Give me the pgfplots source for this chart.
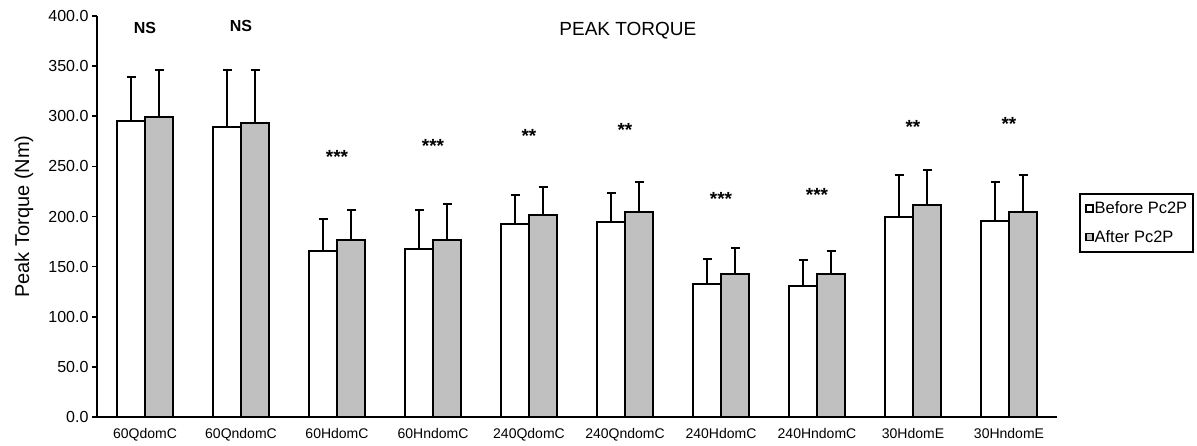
\documentclass[border=0pt]{standalone}
\usepackage{fontspec}
\setmainfont{Liberation Sans}
\usepackage{pgfplots}
\pgfplotsset{compat=1.18}
\usepackage{pgfplotstable}
\definecolor{barGray}{RGB}{192,192,192}

\pgfplotstableread{
x before berr after aerr
0 295   44.5 299 47
1 289   57   293 53
2 166   31.5 177 29
3 168   38.5 177 35.5
4 192.5 28.5 201.5 28
5 195   28.5 204 30.5
6 132.5 25   143 25.5
7 130.5 26.5 143 23
8 199.5 42   211 35
9 195.5 39   204 37.5
}\data

\begin{document}
\begin{tikzpicture}
\useasboundingbox (0,0) rectangle (1197pt,445pt);
\begin{axis}[
  at={(97pt,28pt)}, anchor=south west,
  scale only axis, width=960pt, height=401pt,
  xmin=-0.5, xmax=9.5, ymin=0, ymax=400,
  axis x line*=bottom, axis y line*=left,
  axis line style={line width=2pt, -},
  ybar=0pt, bar width=28pt,
  xtick={0,...,9},
  xticklabels={60QdomC,60QndomC,60HdomC,60HndomC,240QdomC,240QndomC,240HdomC,240HndomC,30HdomE,30HndomE},
  xticklabel style={font=\fontsize{14}{16}\selectfont, yshift=-3pt},
  x tick style={draw=none},
  ytick={0,50,...,400},
  y tick style={line width=1.6pt, black},
  tick align=outside, major tick length=5pt,
  yticklabel style={font=\fontsize{16}{18}\selectfont, /pgf/number format/.cd, fixed, fixed zerofill, precision=1, assume math mode=true},
  ylabel={Peak Torque (Nm)},
  ylabel style={font=\fontsize{20}{22}\selectfont, at={(axis description cs:-0.076,0.5)}, anchor=center},
  legend style={at={(1.0229,0.5586)}, anchor=north west, draw=black, line width=2pt,
    font=\fontsize{16.5}{18}\selectfont, inner xsep=5pt, inner ysep=6pt, row sep=11pt,
    nodes={inner xsep=1pt}},
  legend cell align=left,
  legend image code/.code={\draw[#1, line width=1.6pt] (0pt,-3.5pt) rectangle (7pt,3.5pt);},
  error bars/y dir=plus, error bars/y explicit,
  error bars/error bar style={line width=2pt, black},
  error bars/error mark options={rotate=90, mark size=4.5pt, line width=2pt, black},
]
\addplot[fill=white, draw=black, line width=2pt] table[x=x, y=before, y error=berr]{\data};
\addplot[fill=barGray, draw=black, line width=2pt] table[x=x, y=after, y error=aerr]{\data};
\legend{Before Pc2P, After Pc2P}
\node[font=\fontsize{19}{21}\selectfont, anchor=center] at (axis cs:5.03,385) {PEAK TORQUE};
\begin{scope}[every node/.style={font=\bfseries\fontsize{16}{18}\selectfont, inner sep=0pt}]
\node[anchor=center] at (axis cs:0,388) {NS};
\node[anchor=center] at (axis cs:1,390) {NS};
\end{scope}
\begin{scope}[every node/.style={font=\bfseries\fontsize{19}{21}\selectfont, inner sep=0pt}]
\node[anchor=north] at (axis cs:2,266) {***};
\node[anchor=north] at (axis cs:3,277) {***};
\node[anchor=north] at (axis cs:4,287) {**};
\node[anchor=north] at (axis cs:5,293.5) {**};
\node[anchor=north] at (axis cs:6,224) {***};
\node[anchor=north] at (axis cs:7,228) {***};
\node[anchor=north] at (axis cs:8,296) {**};
\node[anchor=north] at (axis cs:9,299.5) {**};
\end{scope}
\end{axis}
\end{tikzpicture}
\end{document}
